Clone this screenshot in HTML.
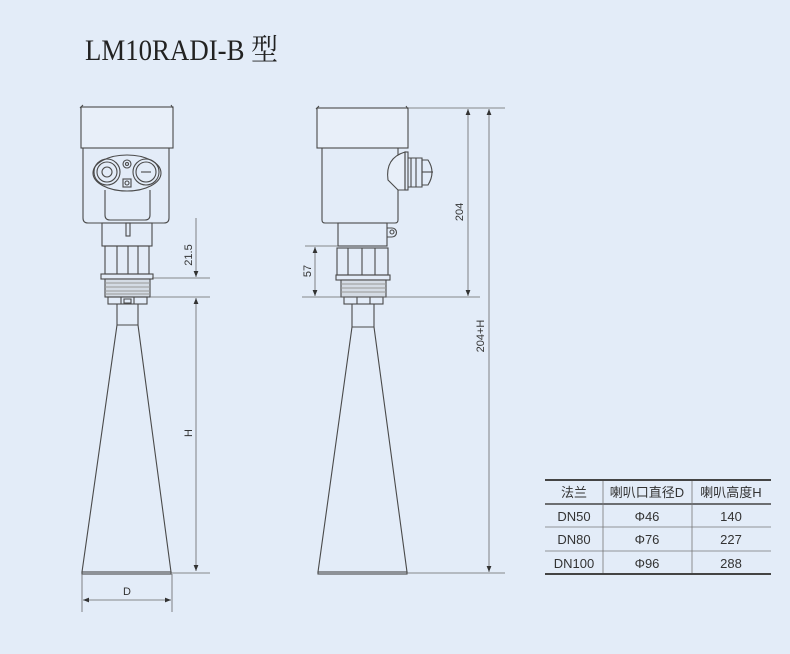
<!DOCTYPE html>
<html><head><meta charset="utf-8"><style>
html,body{margin:0;padding:0;background:#e3ecf8;}
svg{display:block}
text{font-family:"Liberation Sans","Noto Sans CJK SC",sans-serif;fill:#333}
text.t{font-family:"Liberation Serif","Noto Serif CJK SC",serif;fill:#222}
</style></head><body>
<svg width="790" height="654" viewBox="0 0 790 654" xmlns="http://www.w3.org/2000/svg">
<rect width="790" height="654" fill="#e3ecf8"/>
<text class="t" x="85" y="60" font-size="30" textLength="193" lengthAdjust="spacingAndGlyphs">LM10RADI-B 型</text>
<defs>
<marker id="a" viewBox="0 0 10 10" refX="10" refY="5" markerWidth="9" markerHeight="6" orient="auto-start-reverse" markerUnits="userSpaceOnUse"><path d="M0,1 L10,5 L0,9 z" fill="#333"/></marker>
</defs>
<g fill="none" stroke="#4a4a4a" stroke-width="1.1">
<!-- LEFT front view -->
<rect x="81" y="107" width="92" height="41" fill="#e8eff9"/>
<path d="M80,108 l3,-3 M173,108 l-2,-3"/>
<path d="M83,148 V218 q0,5 5,5 H164 q5,0 5,-5 V148"/>
<ellipse cx="127" cy="173" rx="34" ry="18"/>
<path d="M105,190 V215 q0,5 5,5 H145 q5,0 5,-5 V190"/>
<circle cx="107" cy="172" r="13"/><circle cx="107" cy="172" r="10"/><circle cx="107" cy="172" r="5"/>
<circle cx="146" cy="172" r="13"/><circle cx="146" cy="172" r="10"/><path d="M141,172 H151"/>
<circle cx="127" cy="164" r="4"/><circle cx="127" cy="164" r="1.5"/>
<rect x="123" y="179" width="8" height="8"/><circle cx="127" cy="183" r="2"/>
<rect x="126" y="223" width="4" height="13"/>
<rect x="102" y="223" width="50" height="23"/>
<rect x="105" y="246" width="44" height="28"/>
<path d="M117,246 V274 M128,246 V274 M138,246 V274"/>
<rect x="101" y="274" width="52" height="5"/>
<rect x="105" y="279" width="45" height="18" fill="#d4dbe4"/>
<path d="M105,283 H150 M105,287 H150 M105,291 H150 M105,294 H150" stroke="#999"/>
<rect x="108" y="297" width="39" height="7"/>
<path d="M121,297 V304 M134,297 V304 M124,299 h7 v4 h-7z"/>
<path d="M117,304 V325 H138 V304 M117,325 L82,572 H171 L138,325"/>
<rect x="82" y="572" width="89" height="2"/>
<!-- RIGHT side view -->
<rect x="317" y="108" width="91" height="40" fill="#e8eff9"/>
<path d="M316,109 l3,-3 M408,109 l-2,-3"/>
<path d="M322,148 V220 q0,3 3,3 H395 q3,0 3,-3 V148"/>
<path d="M405,152 Q385,158 388,180 L398,190 H405 Z" fill="#e8eff9"/>
<rect x="405" y="152" width="3" height="38"/>
<path d="M408,158 H422 V187 H408 M411,158 V187 M416,158 V187"/>
<path d="M422,160 H428 Q436,172 428,185 H422 Z"/>
<path d="M422,172 H433"/>
<rect x="338" y="223" width="49" height="23"/>
<path d="M387,228 h5 a4,4 0 0 1 0,9 h-5"/><circle cx="392" cy="232" r="2"/>
<rect x="337" y="248" width="51" height="27"/>
<path d="M348,248 V275 M362,248 V275 M375,248 V275"/>
<rect x="336" y="275" width="54" height="5"/>
<rect x="341" y="280" width="45" height="17" fill="#d4dbe4"/>
<path d="M341,284 H386 M341,288 H386 M341,292 H386" stroke="#999"/>
<rect x="344" y="297" width="39" height="7"/>
<path d="M357,297 V304 M370,297 V304"/>
<path d="M352,304 V327 H374 V304 M352,327 L318,572 H407 L374,327"/>
<rect x="318" y="572" width="89" height="2"/>
</g>
<!-- dimension lines -->
<g stroke="#666" stroke-width="0.8" fill="none">
<path d="M152,278 H210 M150,297 H210 M171,573 H210"/>
<path d="M82,574 V612 M172,574 V612"/>
<path d="M196,218 V277" marker-end="url(#a)"/>
<path d="M196,298 V571" marker-start="url(#a)" marker-end="url(#a)"/>
<path d="M83,600 H171" marker-start="url(#a)" marker-end="url(#a)"/>
<path d="M408,108 H505 M305,246 H338 M302,297 H480 M407,573 H505"/>
<path d="M315,247 V296" marker-start="url(#a)" marker-end="url(#a)"/>
<path d="M468,109 V296" marker-start="url(#a)" marker-end="url(#a)"/>
<path d="M489,109 V572" marker-start="url(#a)" marker-end="url(#a)"/>
</g>
<g font-size="11">
<text transform="translate(192,255) rotate(-90)" text-anchor="middle">21.5</text>
<text transform="translate(192,433) rotate(-90)" text-anchor="middle">H</text>
<text x="127" y="595" text-anchor="middle">D</text>
<text transform="translate(311,271) rotate(-90)" text-anchor="middle">57</text>
<text transform="translate(463,212) rotate(-90)" text-anchor="middle">204</text>
<text transform="translate(484,336) rotate(-90)" text-anchor="middle">204+H</text>
</g>
<!-- table -->
<g stroke="#444" fill="none">
<path d="M545,480 H771" stroke-width="2"/>
<path d="M545,504 H771" stroke-width="1.5"/>
<path d="M545,527 H771 M545,551 H771" stroke-width="0.8" stroke="#777"/>
<path d="M545,574 H771" stroke-width="2"/>
<path d="M603,481 V573 M692,481 V573" stroke-width="0.8" stroke="#777"/>
</g>
<g font-size="13" text-anchor="middle">
<text x="574" y="497">法兰</text>
<text x="647" y="497">喇叭口直径D</text>
<text x="731" y="497">喇叭高度H</text>
<text x="574" y="521">DN50</text><text x="647" y="521">Φ46</text><text x="731" y="521">140</text>
<text x="574" y="544">DN80</text><text x="647" y="544">Φ76</text><text x="731" y="544">227</text>
<text x="574" y="568">DN100</text><text x="647" y="568">Φ96</text><text x="731" y="568">288</text>
</g>
</svg>
</body></html>
